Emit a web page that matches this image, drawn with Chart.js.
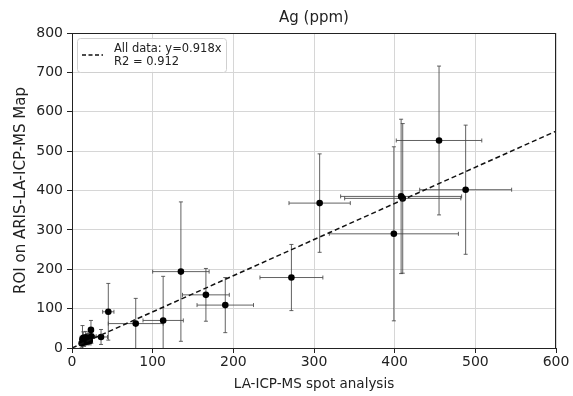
<!DOCTYPE html>
<html>
<head>
<meta charset="utf-8">
<script src="https://cdn.jsdelivr.net/npm/chart.js@4.4.1/dist/chart.umd.min.js"></script>
<style>
  html, body { margin: 0; padding: 0; background: #fff; }
  #wrap { width: 573px; height: 396px; }
</style>
</head>
<body>
<div id="wrap"><canvas id="agChart" width="573" height="396"></canvas></div>
<script>
// LA-ICP-MS spot value vs ROI value on the ARIS map (Ag, ppm)
const spotX  = [455, 488, 408, 410, 399, 307, 272, 135, 166, 190, 113, 79, 45, 36, 23.5,
                12, 13, 14, 15, 16, 17, 18, 19, 20, 21, 22, 24];
const roiY   = [527, 402, 385, 380, 290, 368, 179, 194, 135, 109, 70, 62, 92, 28, 46,
                12, 22, 26, 14, 20, 27, 16, 23, 20, 26, 18, 30];
const spotErr = [53, 57, 75, 72, 80, 38, 39, 35, 29, 35, 25, 34, 7, 8, 3,
                 3, 3, 4, 3, 4, 5, 3, 4, 5, 4, 3, 6];
const roiErr  = [189, 164, 196, 190, 221, 125, 84, 177, 67, 70, 112, 64, 72, 19, 24,
                 10, 35, 15, 10, 12, 15, 8, 14, 10, 12, 10, 18];
const xTicks = [0, 100, 200, 300, 400, 500, 600];
const yTicks = [0, 100, 200, 300, 400, 500, 600, 700, 800];
const fitSlope = 0.918;
const fitR2 = 0.912;
const fitX = [0, 600];

const FONT = "'DejaVu Sans', sans-serif";

// error bars behind the markers
const errorBars = {
    id: 'errorBars',
    beforeDatasetsDraw(chart) {
        const {ctx, chartArea, scales: {x, y}} = chart;
        ctx.save();
        ctx.beginPath();
        ctx.rect(chartArea.left, chartArea.top, chartArea.right - chartArea.left, chartArea.bottom - chartArea.top);
        ctx.clip();
        ctx.strokeStyle = 'rgba(70,70,70,0.85)';
        ctx.lineWidth = 1;
        const cap = 2;
        spotX.forEach((sx, i) => {
            const px = x.getPixelForValue(sx);
            const py = y.getPixelForValue(roiY[i]);
            const x0 = x.getPixelForValue(sx - spotErr[i]);
            const x1 = x.getPixelForValue(sx + spotErr[i]);
            const y0 = y.getPixelForValue(roiY[i] - roiErr[i]);
            const y1 = y.getPixelForValue(roiY[i] + roiErr[i]);
            ctx.beginPath();
            ctx.moveTo(x0, py); ctx.lineTo(x1, py);
            ctx.moveTo(x0, py - cap); ctx.lineTo(x0, py + cap);
            ctx.moveTo(x1, py - cap); ctx.lineTo(x1, py + cap);
            ctx.moveTo(px, y0); ctx.lineTo(px, y1);
            ctx.moveTo(px - cap, y0); ctx.lineTo(px + cap, y0);
            ctx.moveTo(px - cap, y1); ctx.lineTo(px + cap, y1);
            ctx.stroke();
        });
        ctx.restore();
    }
};

// title, frame and legend box (matplotlib look)
const decorations = {
    id: 'decorations',
    afterDraw(chart) {
        const {ctx, chartArea: ca} = chart;
        ctx.save();
        ctx.strokeStyle = '#222';
        ctx.lineWidth = 1;
        ctx.strokeRect(Math.round(ca.left) + 0.5, Math.round(ca.top) + 0.5,
                       Math.round(ca.right - ca.left) - 1, Math.round(ca.bottom - ca.top));

        ctx.fillStyle = '#222';
        ctx.font = '15px ' + FONT;
        ctx.textAlign = 'center';
        ctx.textBaseline = 'middle';
        ctx.fillText('Ag (ppm)', (ca.left + ca.right) / 2, 18);

        // legend
        const lx = ca.left + 5, ly = ca.top + 5, lw = 149, lh = 34;
        ctx.fillStyle = 'rgba(255,255,255,0.85)';
        ctx.strokeStyle = '#d0d0d0';
        ctx.beginPath();
        ctx.roundRect(lx + 0.5, ly + 0.5, lw, lh, 3);
        ctx.fill();
        ctx.stroke();
        ctx.strokeStyle = '#111';
        ctx.lineWidth = 1.5;
        ctx.setLineDash([4, 2.5]);
        ctx.beginPath();
        ctx.moveTo(lx + 5, ly + 17);
        ctx.lineTo(lx + 26, ly + 17);
        ctx.stroke();
        ctx.setLineDash([]);
        ctx.fillStyle = '#222';
        ctx.font = '11.5px ' + FONT;
        ctx.textAlign = 'left';
        ctx.fillText('All data: y=' + fitSlope.toFixed(3) + 'x', lx + 37, ly + 11);
        ctx.fillText('R2 = ' + fitR2.toFixed(3), lx + 37, ly + 24);
        ctx.restore();
    }
};

const tickFont = {family: FONT, size: 14};

new Chart(document.getElementById('agChart'), {
    type: 'scatter',
    data: {
        datasets: [{
            label: 'points',
            data: spotX.map((v, i) => ({x: v, y: roiY[i]})),
            backgroundColor: '#000',
            borderWidth: 0,
            pointRadius: 3.3,
            order: 2
        }, {
            label: 'All data: y=' + fitSlope + 'x',
            data: fitX.map(v => ({x: v, y: v * fitSlope})),
            showLine: true,
            borderColor: '#111',
            borderWidth: 1.5,
            borderDash: [5, 3],
            pointRadius: 0,
            order: 1
        }]
    },
    options: {
        responsive: false,
        animation: false,
        devicePixelRatio: 1,
        layout: {padding: {top: 33, right: 17, left: 0, bottom: 0}},
        plugins: {legend: {display: false}, tooltip: {enabled: false}},
        scales: {
            x: {
                type: 'linear', min: 0, max: 600,
                afterBuildTicks: s => { s.ticks = xTicks.map(v => ({value: v})); },
                afterFit: s => { s.height = 48; },
                ticks: {font: tickFont, color: '#222', padding: 1, maxRotation: 0},
                grid: {color: '#d6d6d6', tickColor: '#222', tickLength: 5},
                border: {color: '#222'},
                title: {display: true, text: 'LA-ICP-MS spot analysis', font: {family: FONT, size: 13.5}, color: '#222',
                        padding: {top: 0, bottom: 3}}
            },
            y: {
                type: 'linear', min: 0, max: 800,
                afterBuildTicks: s => { s.ticks = yTicks.map(v => ({value: v})); },
                afterFit: s => { s.width = 72; },
                ticks: {font: tickFont, color: '#222', padding: 4},
                grid: {color: '#d6d6d6', tickColor: '#222', tickLength: 5},
                border: {color: '#222'},
                title: {display: true, text: 'ROI on ARIS-LA-ICP-MS Map', font: {family: FONT, size: 15}, color: '#222',
                        padding: {top: 12, bottom: 0}}
            }
        }
    },
    plugins: [errorBars, decorations]
});
</script>
</body>
</html>
